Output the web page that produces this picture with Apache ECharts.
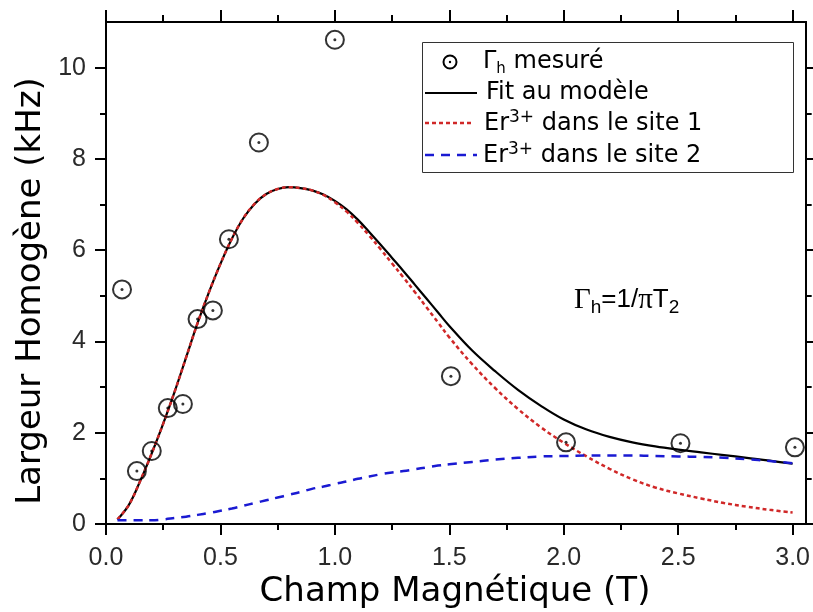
<!DOCTYPE html>
<html>
<head>
<meta charset="utf-8">
<script src="https://cdn.jsdelivr.net/npm/echarts@6/dist/echarts.min.js"></script>
<style>
html,body{margin:0;padding:0;background:#fff;}
#chart{width:813px;height:612px;}
</style>
</head>
<body>
<div id="chart"></div>
<script>
// ---- data ----
const measuredX = [0.07, 0.135, 0.20, 0.27, 0.336, 0.40, 0.467, 0.537, 0.668, 1.0, 1.507, 2.01, 2.51, 3.01];
const measuredY = [5.14, 1.16, 1.60, 2.54, 2.63, 4.49, 4.68, 6.24, 8.36, 10.61, 3.24, 1.79, 1.77, 1.68];

const fieldX = [0.05, 0.10, 0.15, 0.20, 0.25, 0.30, 0.35, 0.40, 0.45, 0.50,
                0.55, 0.60, 0.65, 0.70, 0.75, 0.80, 0.85, 0.90, 0.95, 1.00,
                1.05, 1.10, 1.15, 1.20, 1.25, 1.30, 1.35, 1.40, 1.45, 1.50,
                1.6, 1.7, 1.8, 1.9, 2.0, 2.1, 2.2, 2.3, 2.4, 2.5,
                2.6, 2.7, 2.8, 2.9, 3.0];
const fitY = [0.10, 0.42, 0.95, 1.55, 2.20, 2.90, 3.65, 4.40, 5.08, 5.70,
              6.25, 6.70, 7.02, 7.23, 7.34, 7.38, 7.36, 7.31, 7.22, 7.08,
              6.90, 6.67, 6.40, 6.12, 5.83, 5.54, 5.24, 4.94, 4.64, 4.34,
              3.80, 3.35, 2.94, 2.59, 2.29, 2.07, 1.91, 1.79, 1.70, 1.63,
              1.57, 1.51, 1.45, 1.39, 1.32];
const site1Y = [0.10, 0.42, 0.95, 1.55, 2.20, 2.90, 3.65, 4.40, 5.08, 5.70,
                6.25, 6.70, 7.02, 7.23, 7.34, 7.38, 7.36, 7.31, 7.21, 7.05,
                6.85, 6.60, 6.32, 6.02, 5.71, 5.40, 5.08, 4.75, 4.42, 4.09,
                3.50, 2.98, 2.52, 2.12, 1.78, 1.48, 1.21, 0.98, 0.80, 0.67,
                0.56, 0.46, 0.38, 0.31, 0.25];
const site2Y = [0.08, 0.08, 0.08, 0.08, 0.10, 0.13, 0.16, 0.20, 0.24, 0.29,
                0.34, 0.40, 0.46, 0.52, 0.58, 0.64, 0.70, 0.77, 0.82, 0.88,
                0.93, 0.99, 1.04, 1.09, 1.13, 1.16, 1.20, 1.24, 1.28, 1.31,
                1.36, 1.41, 1.45, 1.48, 1.49, 1.50, 1.50, 1.50, 1.49, 1.48,
                1.47, 1.45, 1.42, 1.38, 1.33];

const xMajorTicks = [0, 0.5, 1.0, 1.5, 2.0, 2.5, 3.0];
const xMinorTicks = [0.25, 0.75, 1.25, 1.75, 2.25, 2.75];
const yMajorTicks = [0, 2, 4, 6, 8, 10];
const yMinorTicks = [1, 3, 5, 7, 9];
const xRange = [0, 3.057];
const yRange = [0, 11];

const xTitle = 'Champ Magnétique (T)';
const yTitle = 'Largeur Homogène (kHz)';

// ---- chart ----
const zip = (xs, ys) => xs.map((x, i) => [x, ys[i]]);
const LBL = {fontFamily: 'Liberation Sans, Arial, sans-serif', fontSize: 25, color: '#2a2a2a'};
const SANS = 'DejaVu Sans, Verdana, sans-serif';

function xAxisDef(pos, values, len, labels) {
  return {
    type: 'value', position: pos, min: xRange[0], max: xRange[1],
    axisLine: {show: true, onZero: false, lineStyle: {color: '#000', width: 2}},
    axisTick: {show: true, inside: false, length: len, customValues: values, lineStyle: {color: '#000', width: 2}},
    axisLabel: labels ? Object.assign({show: true, customValues: values, margin: 22,
      formatter: v => v.toFixed(1)}, LBL) : {show: false},
    splitLine: {show: false}
  };
}
function yAxisDef(pos, values, len, labels) {
  return {
    type: 'value', position: pos, min: yRange[0], max: yRange[1],
    axisLine: {show: true, onZero: false, lineStyle: {color: '#000', width: 2}},
    axisTick: {show: true, inside: false, length: len, customValues: values, lineStyle: {color: '#000', width: 2}},
    axisLabel: labels ? Object.assign({show: true, customValues: values, margin: 20,
      formatter: v => String(v)}, LBL) : {show: false},
    splitLine: {show: false}
  };
}

const chart = echarts.init(document.getElementById('chart'), null, {renderer: 'canvas'});
const rich = {
  m: {fontSize: 24, fontFamily: SANS, fill: '#000', lineHeight: 30},
  s: {fontSize: 15, fontFamily: SANS, fill: '#000', lineHeight: 13, verticalAlign: 'bottom'},
  p: {fontSize: 17, fontFamily: SANS, fill: '#000', lineHeight: 15, verticalAlign: 'top'}
};
const frich = {
  g: {fontSize: 29, fontFamily: 'Liberation Serif, DejaVu Serif, serif', fill: '#000', lineHeight: 34},
  n: {fontSize: 26, fontFamily: 'Liberation Sans, Arial, sans-serif', fill: '#000', lineHeight: 34},
  s: {fontSize: 19, fontFamily: 'Liberation Sans, Arial, sans-serif', fill: '#000', lineHeight: 17, verticalAlign: 'bottom'}
};

chart.setOption({
  animation: false,
  backgroundColor: '#fff',
  grid: {left: 106, right: 6, top: 22, bottom: 88, containLabel: false},
  xAxis: [
    xAxisDef('bottom', xMajorTicks, 11, true),
    xAxisDef('bottom', xMinorTicks, 6, false),
    xAxisDef('top', xMajorTicks, 12, false),
    xAxisDef('top', xMinorTicks, 7, false)
  ],
  yAxis: [
    yAxisDef('left', yMajorTicks, 11, true),
    yAxisDef('left', yMinorTicks, 6, false),
    yAxisDef('right', yMajorTicks, 11, false),
    yAxisDef('right', yMinorTicks, 6, false)
  ],
  series: [
    {name: 'Fit au modèle', type: 'line', data: zip(fieldX, fitY), smooth: 0.4, showSymbol: false,
     lineStyle: {color: '#000', width: 2.2}, z: 2},
    {name: 'site1', type: 'line', data: zip(fieldX, site1Y), smooth: 0.4, showSymbol: false,
     lineStyle: {color: '#d02828', width: 2.5, type: [4, 3]}, z: 3},
    {name: 'site2', type: 'line', data: zip(fieldX, site2Y), smooth: 0.4, showSymbol: false,
     lineStyle: {color: '#1a1ad2', width: 2.5, type: [9, 7]}, z: 4},
    {name: 'mesure', type: 'scatter', data: zip(measuredX, measuredY), symbol: 'circle', symbolSize: 18,
     itemStyle: {color: 'rgba(0,0,0,0)', borderColor: '#000', borderWidth: 2}, z: 5},
    {name: 'mesureDot', type: 'scatter', data: zip(measuredX, measuredY), symbol: 'circle', symbolSize: 3,
     itemStyle: {color: '#000'}, z: 6}
  ],
  graphic: [
    {type: 'text', x: 31, y: 291, rotation: Math.PI / 2,
     style: {text: yTitle, fontSize: 34, fontFamily: SANS, fill: '#000', align: 'center', verticalAlign: 'middle'}},
    {type: 'text', x: 455, y: 592,
     style: {text: xTitle, fontSize: 34, fontFamily: SANS, fill: '#000', align: 'center', verticalAlign: 'middle'}},
    // legend box
    {type: 'rect', shape: {x: 422.5, y: 42.5, width: 371, height: 130}, style: {fill: '#fff', stroke: '#333', lineWidth: 1}, z: 10},
    {type: 'circle', shape: {cx: 450, cy: 62, r: 6.5}, style: {fill: 'none', stroke: '#000', lineWidth: 2}, z: 11},
    {type: 'circle', shape: {cx: 450, cy: 62, r: 1.2}, style: {fill: '#000'}, z: 11},
    {type: 'line', shape: {x1: 425, y1: 93, x2: 477, y2: 93}, style: {stroke: '#000', lineWidth: 2}, z: 11},
    {type: 'line', shape: {x1: 425, y1: 123, x2: 473, y2: 123}, style: {stroke: '#d02828', lineWidth: 2.5, lineDash: [4, 3]}, z: 11},
    {type: 'line', shape: {x1: 425, y1: 155, x2: 477, y2: 155}, style: {stroke: '#1a1ad2', lineWidth: 2.5, lineDash: [9, 7]}, z: 11},
    {type: 'text', x: 483, y: 62, z: 11,
     style: {text: '{m|Γ}{s|h}{m| mesuré}', rich: rich, align: 'left', verticalAlign: 'middle'}},
    {type: 'text', x: 486, y: 93, z: 11,
     style: {text: '{m|Fit au modèle}', rich: rich, align: 'left', verticalAlign: 'middle'}},
    {type: 'text', x: 484, y: 124, z: 11,
     style: {text: '{m|Er}{p|3+}{m| dans le site 1}', rich: rich, align: 'left', verticalAlign: 'middle'}},
    {type: 'text', x: 483, y: 156, z: 11,
     style: {text: '{m|Er}{p|3+}{m| dans le site 2}', rich: rich, align: 'left', verticalAlign: 'middle'}},
    // formula annotation
    {type: 'text', x: 574, y: 300, z: 11,
     style: {text: '{g|Γ}{s|h}{n|=1/}{g|π}{n|T}{s|2}', rich: frich, align: 'left', verticalAlign: 'middle'}}
  ]
});
</script>
</body>
</html>
